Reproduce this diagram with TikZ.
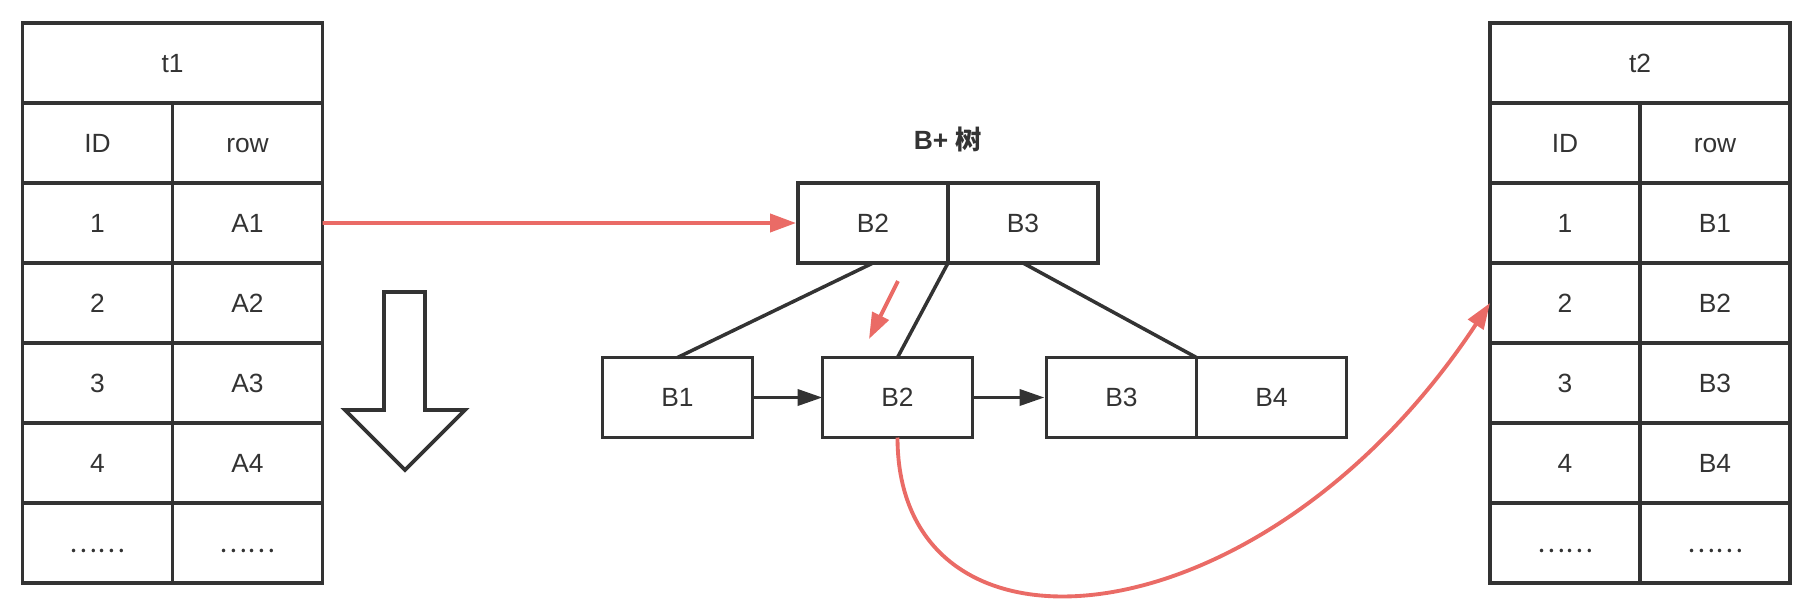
\documentclass[tikz,border=0pt]{standalone}
\usepackage{fontspec}
\setmainfont{Liberation Sans}
\newfontfamily\cjkfont{Noto Sans CJK SC}
\usetikzlibrary{matrix, arrows.meta, positioning}
\definecolor{LineGray}{RGB}{51, 51, 51}
\definecolor{MyRed}{RGB}{234, 107, 102}
\newcommand{\cellfont}{\fontsize{15}{18}\selectfont}

\begin{document}
\begin{tikzpicture}[
    % --- Styles ---
    % One box of a table or of the tree
    cell/.style={
        draw=LineGray, line width=2.2pt,
        minimum width=3cm, minimum height=1.6cm,
        inner sep=0pt, outer sep=0pt,
        text=LineGray, font=\cellfont,
        text height=10.7pt, text depth=0pt
    },
    % Style for the tables and the two-key nodes
    table-style/.style={
        matrix of nodes,
        nodes={cell},
        nodes in empty cells,
        row sep=-2.2pt, % Connect cell borders
        column sep=-2.2pt,
        inner sep=0pt, outer sep=0pt
    },
    % Lines between the levels of the tree
    tree-line/.style={
        line width=2pt,
        draw=LineGray
    },
    % Arrows between the leaves
    leaf-arrow/.style={
        -{Triangle[length=5mm, width=3.2mm]},
        line width=2.2pt,
        draw=LineGray
    },
    % Red lookup arrows
    red-arrow/.style={
        -{Triangle[length=5.2mm, width=3.6mm]},
        line width=2.2pt,
        draw=MyRed
    }
]
\useasboundingbox (0,0) rectangle (36.16,-12.2);

% --- Table 1: t1 ---
\node[matrix, table-style] (t1) at (3.45,-6.86) {
    ID & row \\
    1 & A1 \\
    2 & A2 \\
    3 & A3 \\
    4 & A4 \\
    {\cjkfont ……} & {\cjkfont ……} \\
};
\node[cell, minimum width=6cm, above=-1.1pt of t1] (t1-title) {t1};

% --- Hollow arrow: scan order ---
\draw[line width=2.2pt, draw=LineGray, line join=miter]
    (7.68,-5.84) -- (8.5,-5.84) -- (8.5,-8.2) -- (9.3,-8.2)
    -- (8.1,-9.4) -- (6.9,-8.2) -- (7.68,-8.2) -- cycle;

% --- B+ tree: root ---
\node[matrix, table-style] (root) at (18.96,-4.46) {
    B2 & B3 \\
};
\node[above=0.62cm of root, inner sep=0pt, text depth=0pt, text=LineGray,
    font=\fontsize{15}{18}\selectfont\bfseries] (tree-label) {B+ {\cjkfont 树}};

% --- B+ tree: leaves ---
\node[cell] (b1) at (13.55,-7.95) {B1};
\node[cell, right=1.4cm of b1] (b2) {B2};
\node[matrix, table-style, right=1.44cm of b2] (b34) {
    B3 & B4 \\
};

\draw[tree-line] (root-1-1.south) -- (b1.north);
\draw[tree-line] (root-1-1.south east) -- (b2.north);
\draw[tree-line] (root-1-2.south) -- (b34-1-1.north east);

\draw[leaf-arrow] (b1.east) -- (b2.west);
\draw[leaf-arrow] (b2.east) -- (b34.west);

% --- Table 2: t2 ---
\node[matrix, table-style] (t2) at (32.8,-6.86) {
    ID & row \\
    1 & B1 \\
    2 & B2 \\
    3 & B3 \\
    4 & B4 \\
    {\cjkfont ……} & {\cjkfont ……} \\
};
\node[cell, minimum width=6cm, above=-1.1pt of t2] (t2-title) {t2};

% --- Red arrows: lookup path ---
\draw[red-arrow] (t1-2-2.east) -- (root.west);

\coordinate (hint-start) at (17.96,-5.62);
\coordinate (hint-end) at (17.38,-6.78);
\draw[red-arrow] (hint-start) -- (hint-end);

\draw[red-arrow] (b2.south) .. controls +(0,-4.84) and +(-4.56,-6.9) .. (t2-3-1.west);

\end{tikzpicture}
\end{document}
